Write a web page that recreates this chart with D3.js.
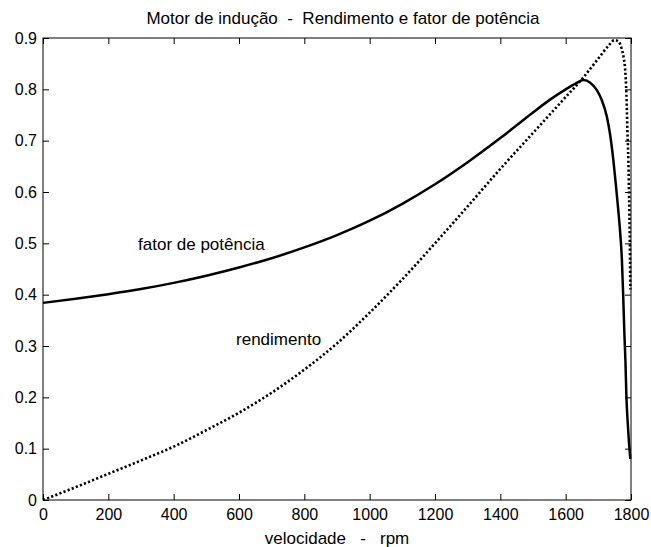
<!DOCTYPE html>
<html>
<head>
<meta charset="utf-8">
<script src="https://cdn.jsdelivr.net/npm/d3@7"></script>
<style>
  body { margin: 0; background: #fff; }
  svg { display: block; font-family: "Liberation Sans", Arial, sans-serif; }
</style>
</head>
<body>
<svg id="chart" width="651" height="547"></svg>
<script>
const title = "Motor de indução  -  Rendimento e fator de potência";
const xLabel = "velocidade   -   rpm";
const xTicks = [0, 200, 400, 600, 800, 1000, 1200, 1400, 1600, 1800];
const yTicks = [0, 0.1, 0.2, 0.3, 0.4, 0.5, 0.6, 0.7, 0.8, 0.9];

// fator de potência (solid)
const pfSpeed = [0, 100, 200, 300, 400, 500, 600, 700, 800, 900, 1000, 1100, 1200, 1300, 1400, 1500, 1550, 1600, 1630, 1655, 1675, 1695, 1710, 1726, 1736, 1746, 1754, 1761, 1767, 1772, 1776, 1780, 1783, 1786, 1790, 1794, 1798];
const pfValue = [0.384, 0.392, 0.401, 0.411, 0.423, 0.437, 0.453, 0.471, 0.492, 0.516, 0.544, 0.577, 0.615, 0.658, 0.705, 0.755, 0.779, 0.800, 0.811, 0.818, 0.813, 0.799, 0.780, 0.747, 0.712, 0.662, 0.612, 0.565, 0.520, 0.470, 0.400, 0.320, 0.270, 0.200, 0.150, 0.110, 0.080];

// rendimento (dotted)
const effSpeed = [0, 100, 200, 300, 400, 500, 600, 700, 800, 900, 1000, 1100, 1200, 1300, 1400, 1500, 1600, 1650, 1700, 1730, 1750, 1762, 1771, 1778, 1782, 1786, 1789, 1792, 1795, 1797, 1798];
const effValue = [0, 0.025, 0.051, 0.077, 0.104, 0.136, 0.170, 0.209, 0.254, 0.305, 0.365, 0.430, 0.500, 0.572, 0.645, 0.715, 0.785, 0.820, 0.860, 0.884, 0.896, 0.893, 0.880, 0.860, 0.840, 0.790, 0.720, 0.660, 0.560, 0.470, 0.410];

const labels = [
  { text: "fator de potência", v: 291, y: 0.487 },
  { text: "rendimento", v: 591, y: 0.302 }
];

const svg = d3.select("#chart");
const margin = { left: 43, top: 38, right: 20, bottom: 47 };
const W = 651, H = 547;
const x = d3.scaleLinear().domain([0, 1800]).range([margin.left, W - margin.right]);
const y = d3.scaleLinear().domain([0, 0.9]).range([H - margin.bottom, margin.top]);
const fsTick = 16, fsText = 17;

// box
svg.append("rect")
  .attr("x", x(0)).attr("y", y(0.9))
  .attr("width", x(1800) - x(0)).attr("height", y(0) - y(0.9))
  .attr("fill", "none").attr("stroke", "#000").attr("stroke-width", 1);

const tickLen = 6;
const fmtY = d => d === 0 ? "0" : d3.format(".1f")(d);
const fmtX = d3.format("d");

const gB = svg.append("g").attr("transform", `translate(0,${y(0)})`)
  .call(d3.axisBottom(x).tickValues(xTicks).tickSizeInner(-tickLen).tickSizeOuter(0).tickPadding(9).tickFormat(fmtX));
const gT = svg.append("g").attr("transform", `translate(0,${y(0.9)})`)
  .call(d3.axisTop(x).tickValues(xTicks).tickSizeInner(-tickLen).tickSizeOuter(0).tickFormat(""));
const gL = svg.append("g").attr("transform", `translate(${x(0)},0)`)
  .call(d3.axisLeft(y).tickValues(yTicks).tickSizeInner(-tickLen).tickSizeOuter(0).tickPadding(6).tickFormat(fmtY));
const gR = svg.append("g").attr("transform", `translate(${x(1800)},0)`)
  .call(d3.axisRight(y).tickValues(yTicks).tickSizeInner(-tickLen).tickSizeOuter(0).tickFormat(""));

[gB, gT, gL, gR].forEach(g => {
  g.select(".domain").remove();
  g.selectAll("line").attr("stroke", "#000");
  g.selectAll("text").attr("font-size", fsTick).attr("fill", "#000").attr("font-family", "Liberation Sans, Arial, sans-serif");
});

const line = d3.line().x(d => x(d[0])).y(d => y(d[1])).curve(d3.curveMonotoneX);
svg.append("path")
  .datum(pfSpeed.map((v, i) => [v, pfValue[i]]))
  .attr("d", line).attr("fill", "none").attr("stroke", "#000").attr("stroke-width", 2.5);
svg.append("path")
  .datum(effSpeed.map((v, i) => [v, effValue[i]]))
  .attr("d", line).attr("fill", "none").attr("stroke", "#000").attr("stroke-width", 2.6)
  .attr("stroke-dasharray", "2.2,2.2");

svg.selectAll("text.lbl").data(labels).enter().append("text")
  .attr("class", "lbl")
  .attr("x", d => x(d.v)).attr("y", d => y(d.y))
  .attr("font-size", fsText).attr("fill", "#000")
  .text(d => d.text);

svg.append("text")
  .attr("x", (x(0) + x(1800)) / 2 + 6).attr("y", 24)
  .attr("text-anchor", "middle").attr("font-size", fsText).attr("fill", "#000")
  .style("white-space", "pre").attr("xml:space", "preserve")
  .text(title);
svg.append("text")
  .attr("x", (x(0) + x(1800)) / 2).attr("y", 544)
  .attr("text-anchor", "middle").attr("font-size", fsText).attr("fill", "#000")
  .style("white-space", "pre").attr("xml:space", "preserve")
  .text(xLabel);
</script>
</body>
</html>
